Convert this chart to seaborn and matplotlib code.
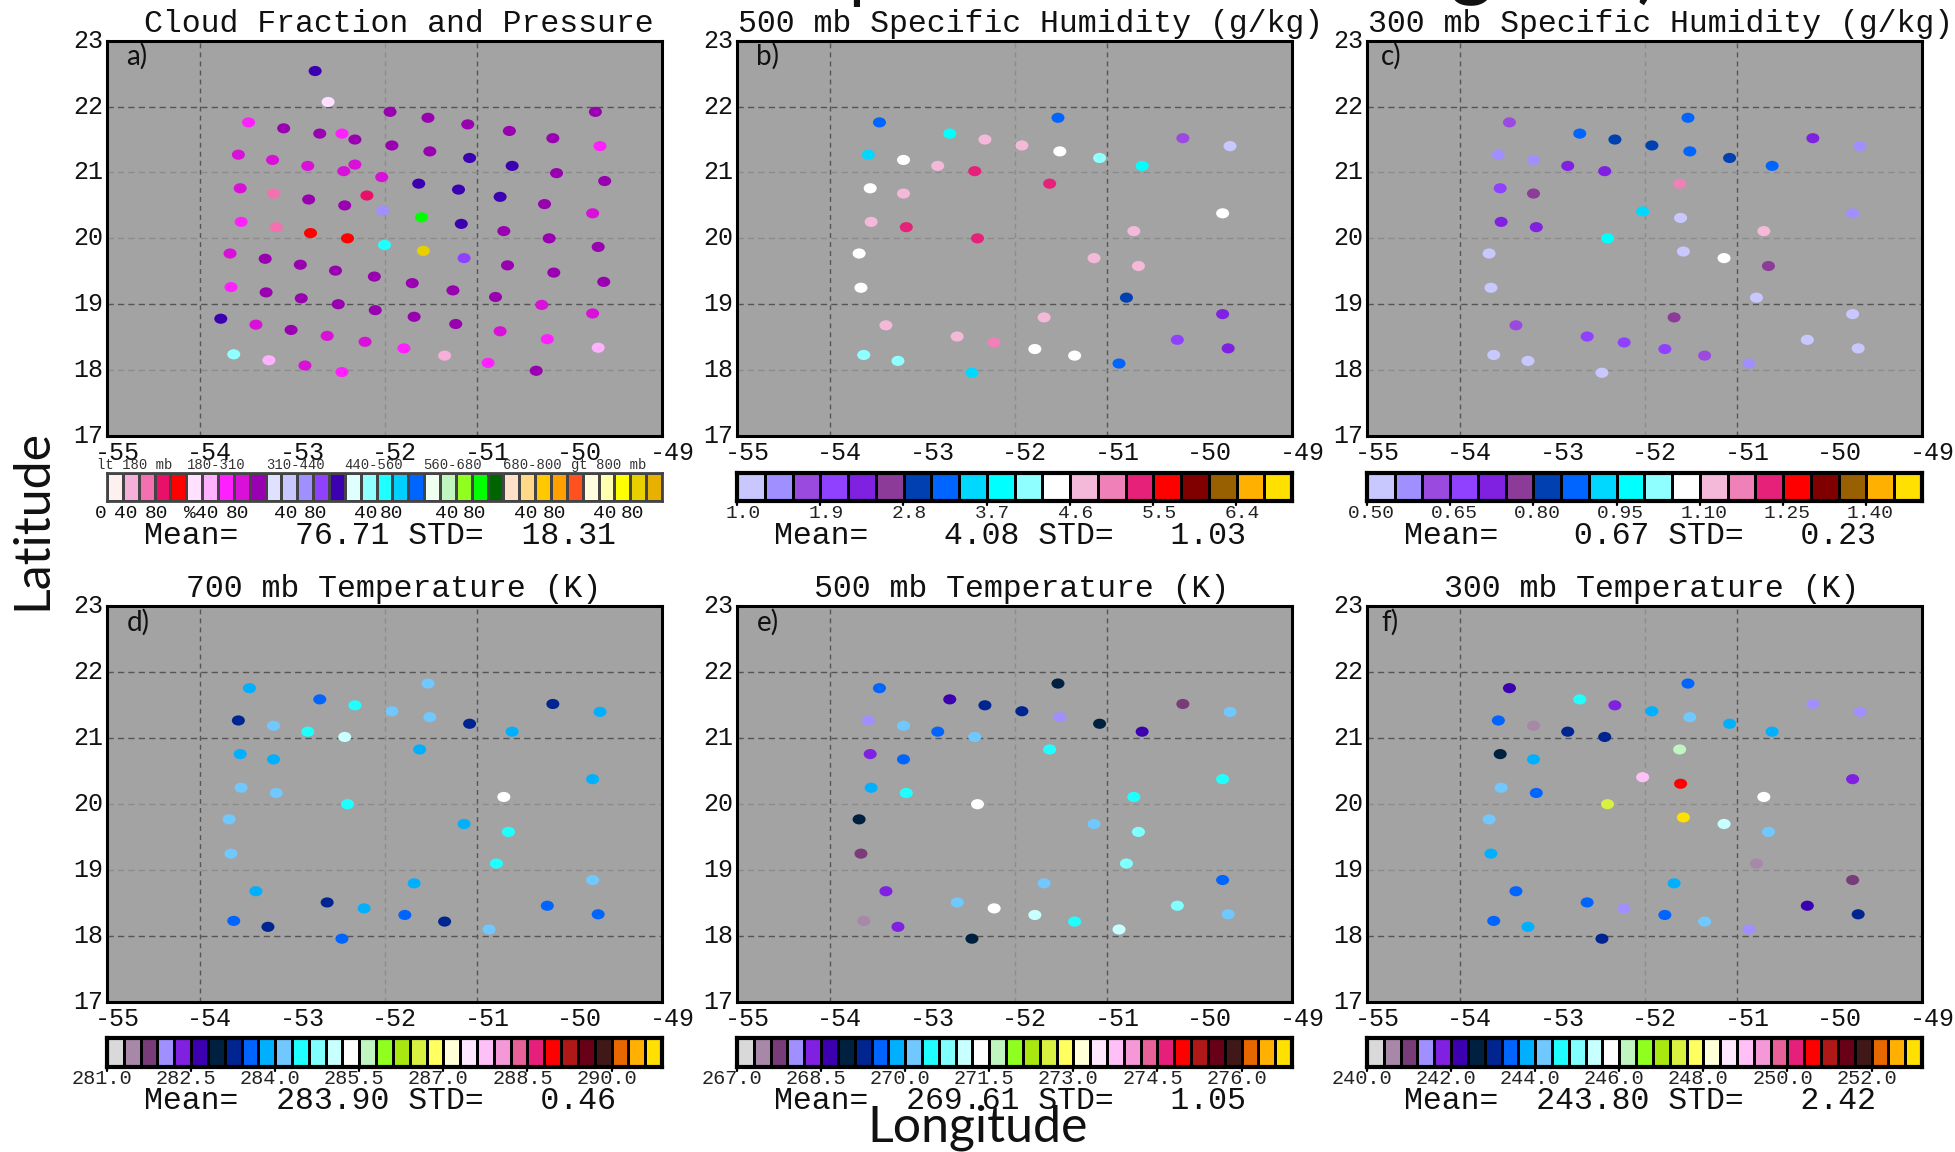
import numpy as np
import matplotlib
matplotlib.use("Agg")
import matplotlib.pyplot as plt
from matplotlib.colors import ListedColormap, BoundaryNorm
from matplotlib.markers import MarkerStyle
from matplotlib.transforms import Affine2D, Bbox
import seaborn as sns
import pandas as pd

sns.set_theme(style="white")
W, H = 1956, 1152

# ---- panel a stations and binned cloud fraction/pressure class
cloud_lon = [-52.75,-52.61,-53.47,-53.09,-52.70,-52.46,-52.32,-51.94,-51.53,-51.10,-50.65,-50.18,-49.72,-49.67,
             -53.58,-53.21,-52.83,-52.44,-52.32,-52.03,-51.92,-51.51,-51.08,-50.62,-50.14,-49.62,
             -53.56,-53.20,-52.82,-52.43,-52.19,-52.02,-51.63,-51.60,-51.20,-51.17,-50.75,-50.71,-50.27,-50.22,-49.75,-49.69,
             -53.55,-53.17,-52.80,-52.40,-52.00,-51.58,-51.14,-50.67,-50.17,-49.63,
             -53.67,-53.29,-52.91,-52.53,-52.11,-51.70,-51.26,-50.80,-50.30,-49.75,
             -53.66,-53.28,-52.90,-52.50,-52.10,-51.68,-51.23,-50.75,-50.24,-49.69,
             -53.77,-53.39,-53.01,-52.62,-52.21,-51.79,-51.35,-50.88,-50.36,
             -53.63,-53.25,-52.86,-52.46]
cloud_lat = [22.54,22.07,21.76,21.67,21.59,21.59,21.50,21.92,21.83,21.73,21.63,21.52,21.92,21.40,
             21.27,21.19,21.10,21.02,21.12,20.93,21.41,21.32,21.22,21.10,20.99,20.87,
             20.76,20.68,20.59,20.50,20.65,20.42,20.83,20.32,20.74,20.22,20.63,20.11,20.52,20.00,20.38,19.87,
             20.25,20.17,20.08,20.00,19.90,19.81,19.70,19.59,19.48,19.34,
             19.77,19.69,19.60,19.51,19.42,19.32,19.21,19.11,18.99,18.86,
             19.26,19.18,19.09,19.00,18.91,18.81,18.70,18.59,18.47,18.34,
             18.78,18.69,18.61,18.52,18.43,18.33,18.22,18.11,17.99,
             18.24,18.15,18.07,17.97]
cloud_bin = [14,5,7,9,9,7,9,9,9,9,9,9,9,7,
             8,8,8,8,8,8,9,9,14,14,9,9,
             8,2,9,9,3,12,14,23,14,14,14,9,9,9,8,9,
             7,2,4,4,17,33,13,9,9,9,
             8,9,9,9,9,9,9,9,8,8,
             7,9,9,9,9,9,9,8,7,6,
             14,8,9,8,8,7,1,7,9,
             16,6,8,7]

# ---- profile stations shared by panels b-f
station_lon = [-53.46,-52.70,-52.32,-51.92,-51.53,-51.51,-51.08,-50.62,-50.18,-49.67,
               -53.58,-53.20,-52.83,-52.43,-51.62,-53.56,-53.20,-53.55,-53.17,-52.40,
               -49.75,-50.71,-51.14,-50.66,-53.68,-53.66,-50.79,-49.75,-53.39,-52.62,
               -52.22,-51.68,-51.78,-51.35,-50.87,-50.24,-49.69,-53.63,-53.26,-52.46]
station_lat = [21.76,21.59,21.50,21.41,21.83,21.32,21.22,21.10,21.52,21.40,
               21.27,21.19,21.10,21.02,20.83,20.76,20.68,20.25,20.17,20.00,
               20.38,20.11,19.70,19.58,19.77,19.25,19.10,18.85,18.68,18.51,
               18.42,18.80,18.32,18.22,18.10,18.46,18.33,18.23,18.14,17.96]
extra_lon = [-52.02,-51.61,-51.58]
extra_lat = [20.41,20.31,19.80]

q500 = [3.25,3.85,4.75,4.75,3.25,4.45,4.15,3.85,1.75,1.15,
        3.55,4.45,4.75,5.35,5.35,4.45,4.75,4.75,5.35,5.35,
        4.45,4.75,4.75,4.75,4.45,4.45,2.95,2.35,4.75,4.75,
        5.05,4.75,4.45,4.45,3.25,2.05,2.35,4.15,4.15,3.55]
q300 = [.625,.875,.825,.825,.875,.875,.825,.875,.725,.575,
        .575,.575,.725,.725,1.175,.675,.775,.725,.725,.975,
        .575,1.125,1.075,.775,.525,.525,.525,.525,.625,.675,
        .675,.775,.675,.625,.575,.525,.525,.525,.525,.525]
q300_extra = [.925,.525,.525]
t700 = [283.85,283.55,284.45,284.15,284.15,284.15,283.25,283.85,283.25,283.85,
        283.25,284.15,284.45,285.05,283.85,283.85,283.85,284.15,284.15,284.45,
        283.85,285.35,283.85,284.45,284.15,284.15,284.45,284.15,283.85,283.25,
        283.85,283.85,283.55,283.25,284.15,283.55,283.55,283.55,283.25,283.55]
t500 = [269.55,268.65,269.25,269.25,268.95,268.05,268.95,268.65,267.75,270.15,
        268.05,270.15,269.55,270.15,270.45,268.35,269.55,269.85,270.45,271.35,
        270.45,270.45,270.15,270.75,268.95,267.75,270.75,269.55,268.35,270.15,
        271.35,270.15,271.05,270.45,271.05,270.75,270.15,267.45,268.35,268.95]
t300 = [242.2,244.6,241.8,243.8,243.4,244.2,243.8,243.8,241.4,241.4,
        243.4,240.6,243.0,243.0,246.2,242.6,243.8,244.2,243.4,247.4,
        241.8,245.8,245.4,244.2,244.2,243.8,240.6,241.0,243.4,243.4,
        241.4,243.8,243.4,244.2,241.4,242.2,243.0,243.4,243.8,243.0]
t300_extra = [249.0,250.6,253.0]

# ---- colour bars
cloud_colors = ["#fff0f0","#f4b0d8","#f570b0","#e81068","#ff0000",
                "#ffe0ff","#ffb0ff","#ff20ff","#d810d8","#9800b0",
                "#e0e0ff","#c8c8ff","#a090ff","#9040ff","#3c00b0",
                "#e0ffff","#90ffff","#20ffff","#00d0ff","#0064ff",
                "#f0fff0","#c0f5c0","#90ff20","#00ff00","#006400",
                "#ffe0c8","#ffd888","#ffc800","#ffa000","#ff5020",
                "#fffce0","#ffffb0","#ffff00","#e8d000","#e8b000"]
humid_colors = ["#c8c8ff","#a090ff","#9b4ae0","#9040ff","#8020e0","#8c3c98","#0040b0",
                "#0064ff","#00d8ff","#00ffff","#90ffff","#ffffff","#f4b8d8","#f080b8",
                "#e6217a","#ff0000","#800000","#986000","#ffb000","#ffe000"]
temp_colors = ["#d9d9d9","#a888a8","#783c78","#a090ff","#8020e0","#3c00b0","#002040",
               "#002490","#0064ff","#00b0ff","#70c8ff","#20ffff","#80ffff","#c8ffff",
               "#ffffff","#c0f5c0","#90ff20","#a8e810","#d8f040","#ffff60","#ffffd8",
               "#ffe8ff","#ffc0f8","#f498d8","#e86098","#e6207a","#ff0000","#b01818",
               "#680018","#401818","#e86800","#ffb000","#ffe000"]

titles = ["Cloud Fraction and Pressure", "500 mb Specific Humidity (g/kg)",
          "300 mb Specific Humidity (g/kg)", "700 mb Temperature (K)",
          "500 mb Temperature (K)", "300 mb Temperature (K)"]
stat_lines = ["Mean=   76.71 STD=  18.31", "Mean=    4.08 STD=   1.03",
              "Mean=    0.67 STD=   0.23", "Mean=  283.90 STD=   0.46",
              "Mean=  269.61 STD=   1.05", "Mean=  243.80 STD=   2.42"]
letters = ["a)", "b)", "c)", "d)", "e)", "f)"]
lon_ticks = [-55, -54, -53, -52, -51, -50, -49]
lat_ticks = [17, 18, 19, 20, 21, 22, 23]

MONO = "Liberation Mono"
DARK_GRID, LIGHT_GRID = "#555555", "#8c8c8c"
fig = plt.figure(figsize=(W / 100, H / 100), dpi=100, facecolor="white")


def fx(px):
    return px / W


def fy(py):
    return 1 - py / H


def place(l, r, t, b):
    return fig.add_axes([fx(l), fy(b), fx(r - l), (b - t) / H])


def panel(l, t, b, lon, lat, val, colors, lo, step, title, tx, ty, letter, lx, ly, stat, sx, sy, dark_lat, light_lat):
    r = l + 555
    ax = place(l, r, t, b)
    ax.set_facecolor("#a3a3a3")
    edges = [lo + step * i for i in range(len(colors) + 1)]
    cmap = ListedColormap(colors)
    norm = BoundaryNorm(edges, cmap.N)
    frame = pd.DataFrame({"lon": lon, "lat": lat, "val": val})
    dot_colors = [cmap(norm(v)) for v in frame["val"]]
    oval = MarkerStyle("o", transform=Affine2D().scale(1.13, 0.88))
    sns.scatterplot(data=frame, x="lon", y="lat", c=dot_colors, s=69, marker=oval,
                    linewidth=0, ax=ax, legend=False, zorder=3)
    ax.set_xlim(-55, -49)
    ax.set_ylim(17, 23)
    ax.set_xlabel("")
    ax.set_ylabel("")
    ax.set_xticks(lon_ticks)
    ax.set_yticks(lat_ticks)
    ax.set_xticklabels([])
    ax.set_yticklabels([])
    ax.tick_params(length=0)
    for v in (-54, -51):
        ax.axvline(v, color=DARK_GRID, lw=1, ls=(0, (3.5, 3)), zorder=1)
    ax.axvline(-52, color=LIGHT_GRID, lw=1, ls=(0, (3.5, 3)), zorder=1)
    for v in dark_lat:
        ax.axhline(v, color=DARK_GRID, lw=1, ls=(0, (4.5, 3)), zorder=1)
    for v in light_lat:
        ax.axhline(v, color=LIGHT_GRID, lw=1, ls=(0, (4.5, 3)), zorder=1)
    for s in ax.spines.values():
        s.set_visible(True)
        s.set_color("black")
        s.set_linewidth(2.2)
    for v in lon_ticks:
        px = l + (v + 55) / 6 * 555 + 10
        fig.text(fx(px), fy(b + 17), str(v), family=MONO, fontsize=18, ha="center", va="center", color="#111111")
    for v in lat_ticks:
        py = t + (23 - v) / 6 * (b - t)
        fig.text(fx(l - 4), fy(py), str(v), family=MONO, fontsize=18, ha="right", va="center", color="#111111")
    fig.text(fx(tx), fy(ty), title, family=MONO, fontsize=22.7, ha="left", va="center", color="#111111")
    fig.text(fx(lx), fy(ly), letter, family="Lato", fontsize=20, ha="left", va="center", color="#111111")
    fig.text(fx(sx), fy(sy), stat, family=MONO, fontsize=22.7, ha="left", va="center", color="#111111")
    return ax


def colorbar(l, t, b, colors, lw, edge):
    ax = place(l, l + 555, t, b)
    n = len(colors)
    sns.heatmap(np.arange(n).reshape(1, n), cmap=ListedColormap(colors), cbar=False, ax=ax,
                linewidths=lw, linecolor=edge, xticklabels=False, yticklabels=False, square=False)
    ax.set_xlabel("")
    ax.set_ylabel("")
    for s in ax.spines.values():
        s.set_visible(True)
        s.set_color(edge)
        s.set_linewidth(lw + 1)
    return ax


TOP1, BOT1, TOP2, BOT2 = 40.7, 436, 606.4, 1002
L1, L2, L3 = 107, 737, 1367
ROW1_DARK, ROW1_LIGHT = (22, 19), (21, 20, 18)
ROW2_DARK, ROW2_LIGHT = (22, 21, 18), (20, 19)

panel(L1, TOP1, BOT1, cloud_lon, cloud_lat, cloud_bin, cloud_colors, -0.5, 1, titles[0], 144, 24, letters[0], 126, 56, stat_lines[0], 144, 536, ROW1_DARK, ROW1_LIGHT)
panel(L2, TOP1, BOT1, station_lon, station_lat, q500, humid_colors, 1.0, 0.3, titles[1], 738, 24, letters[1], 756, 56, stat_lines[1], 774, 536, ROW1_DARK, ROW1_LIGHT)
panel(L3, TOP1, BOT1, station_lon + extra_lon, station_lat + extra_lat, q300 + q300_extra, humid_colors, 0.5, 0.05, titles[2], 1368, 24, letters[2], 1381, 56, stat_lines[2], 1404, 536, ROW1_DARK, ROW1_LIGHT)
panel(L1, TOP2, BOT2, station_lon, station_lat, t700, temp_colors, 281.0, 0.3, titles[3], 186, 589, letters[3], 127, 622, stat_lines[3], 144, 1101, ROW2_DARK, ROW2_LIGHT)
panel(L2, TOP2, BOT2, station_lon, station_lat, t500, temp_colors, 267.0, 0.3, titles[4], 814, 589, letters[4], 757, 622, stat_lines[4], 774, 1101, ROW2_DARK, ROW2_LIGHT)
panel(L3, TOP2, BOT2, station_lon + extra_lon, station_lat + extra_lat, t300 + t300_extra, temp_colors, 240.0, 0.4, titles[5], 1444, 589, letters[5], 1381, 622, stat_lines[5], 1404, 1101, ROW2_DARK, ROW2_LIGHT)

# colour bars
colorbar(L1, 473, 501, cloud_colors, 1.0, "#444444")
colorbar(L2, 473, 501, humid_colors, 2.0, "#000000")
colorbar(L3, 473, 501, humid_colors, 2.0, "#000000")
for l in (L1, L2, L3):
    colorbar(l, 1038, 1067, temp_colors, 2.0, "#000000")

# cloud bar annotations
group_labels = ["lt 180 mb", "180-310", "310-440", "440-560", "560-680", "680-800", "gt 800 mb"]
group_px = [135, 216, 295, 374, 453, 532, 609]
for txt, px in zip(group_labels, group_px):
    fig.text(fx(px), fy(465), txt, family=MONO, fontsize=10, ha="center", va="center", color="#333333")
frac_labels = ["0","40","80","%","40","80","40","80","40","80","40","80","40","80","40","80"]
frac_px = [101,126,157,190,207,238,286,316,366,392,447,475,526,554,605,633]
for txt, px in zip(frac_labels, frac_px):
    fig.text(fx(px), fy(513), txt, family=MONO, fontsize=14, ha="center", va="center", color="#111111")

# numeric bar tick labels
humid_ticks_b = ["1.0", "1.9", "2.8", "3.7", "4.6", "5.5", "6.4"]
humid_ticks_c = ["0.50", "0.65", "0.80", "0.95", "1.10", "1.25", "1.40"]
temp_ticks_d = ["281.0", "282.5", "284.0", "285.5", "287.0", "288.5", "290.0"]
temp_ticks_e = ["267.0", "268.5", "270.0", "271.5", "273.0", "274.5", "276.0"]
temp_ticks_f = ["240.0", "242.0", "244.0", "246.0", "248.0", "250.0", "252.0"]


def bar_ticks(l, labels, n_per, n, y0, y1, ty, size, off):
    for i, txt in enumerate(labels):
        px = l + i * n_per / n * 555
        fig.add_artist(plt.Line2D([fx(px), fx(px)], [fy(y0), fy(y1)], color="black", lw=1.6))
        fig.text(fx(px + off), fy(ty), txt, family=MONO, fontsize=size, ha="center", va="center", color="#222222")


bar_ticks(L2, humid_ticks_b, 3, 20, 501, 505, 513, 14, 6)
bar_ticks(L3, humid_ticks_c, 3, 20, 501, 505, 513, 14, 4)
bar_ticks(L1, temp_ticks_d, 5, 33, 1067, 1071, 1078.5, 14.6, -5)
bar_ticks(L2, temp_ticks_e, 5, 33, 1067, 1071, 1078.5, 14.6, -5)
bar_ticks(L3, temp_ticks_f, 5, 33, 1067, 1071, 1078.5, 14.6, -5)

fig.text(fx(32), fy(520), "Latitude", family="Lato", fontsize=36, rotation=90, ha="center", va="center", color="#111111")
fig.text(fx(978), fy(1128), "Longitude", family="Lato", fontsize=36, ha="center", va="center", color="#111111")

# big title cut off by the upper edge of the image: only descenders show
p_tip = fig.text(fx(847), fy(-8), "p", family="Lato", fontsize=60, ha="left", va="baseline", color="#111111")
p_tip.set_clip_box(Bbox([[850, H - 12], [860, H]]))
p_tip.set_clip_on(True)
fig.text(fx(1471), fy(-11), "g", family="Lato", fontsize=60, ha="center", va="baseline", color="#111111")
fig.text(fx(1648), fy(-6), ")", family="Lato", fontsize=60, ha="center", va="baseline", color="#111111")

fig.savefig("out.png", dpi=100)
